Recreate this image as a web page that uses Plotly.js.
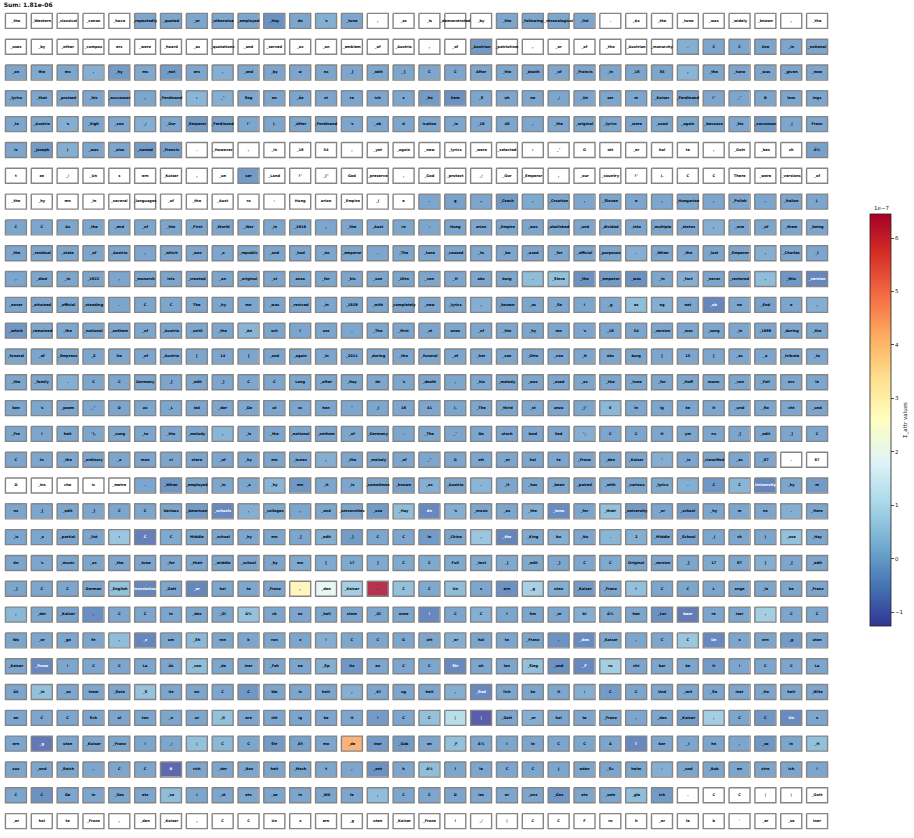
<!DOCTYPE html>
<html><head><meta charset="utf-8">
<script src="https://cdn.plot.ly/plotly-3.0.1.min.js"></script>
<style>html,body{margin:0;padding:0;background:#fff}#chart{width:914px;height:838px}</style>
</head><body><div id="chart"></div>
<script>
const n = null;
const chartTitle = "Sum: 1.81e-06";
const colorbarLabel = "Σ_attr values";
const colorbarExponent = "1e\u22127";
const colorbarTicks = [-1, 0, 1, 2, 3, 4, 5, 6];
const colorbarTickText = ["\u22121", "0", "1", "2", "3", "4", "5", "6"];
const valueMin = -1.26, valueMax = 6.45;

const tokens = [
["_the","_Western","_classical","_canon","_have","_repeatedly","_quoted","_or","_otherwise","_employed","_Hay","dn","'s","_tune",",","_as","_is","_demonstrated","_by","_the","_following","_chronological","_list",".","_As","_the","_tune","_was","_widely","_known",",","_the"],
["_uses","_by","_other","_compos","ers","_were","_heard","_as","_quotations","_and","_served","_as","_an","_emblem","_of","_Austria",",","_of","_Austrian","_patriotism",",","_or","_of","_the","_Austrian","_monarchy",".","Ċ","Ċ","Use","_in","_national"],
["_an","the","ms",",","_hy","ms","_not","ers",",","_and","_by","w","ns","_[","_edit","_]","Ċ","Ċ","After","_the","_death","_of","_Francis","_in","_18","35",",","_the","_tune","_was","_given","_new"],
["_lyrics","_that","_praised","_his","_successor",",","_Ferdinand",":","_\"","Seg","en","_Ãĸ","st","re","ich","s","_ho","hem","_S","oh","ne","_/","_Un","ser","m","_Kaiser","_Ferdinand","!\"","_\"","B","less","ings"],
["_to","_Austria","'s","_high","_son","_/","_Our","_Emperor","_Ferdinand","!\"",").","_After","_Ferdinand","'s","_ab","d","ication","_in","_18","48",",","_the","_original","_lyrics","_were","_used","_again","_because","_his","_successor","_(","Franc"],
["is","_Joseph",")","_was","_also","_named","_Francis",".","_However",",","_in","_18","54",",","_yet","_again","_new","_lyrics","_were","_selected",":","_\"","G","ott","_er","hal","te",",","_Gott","_bes","ch","Ã¼"],
["t","ze","_/","_Un","s","ern","_Kaiser",",","_un","ser","_Land","!\"","_(\"","God","_preserve",",","_God","_protect","_/","_Our","_Emperor",",","_our","_country","!\"",").","Ċ","Ċ","There","_were","_versions","_of"],
["_the","_hy","mn","_in","_several","_languages","_of","_the","_Aust","ro","-","Hung","arian","_Empire","_(","e",".","g",".,","_Czech",",","_Croatian",",","_Sloven","e",",","_Hungarian",",","_Polish",",","_Italian",")."],
["Ċ","Ċ","As","_the","_end","_of","_the","_First","_World","_War","_in","_1918",",","_the","_Aust","ro","-","Hung","arian","_Empire","_was","_abolished","_and","_divided","_into","_multiple","_states",",","_one","_of","_them","_being"],
["_the","_residual","_state","_of","_Austria",",","_which","_was","_a","_republic","_and","_had","_no","_emperor",".","_The","_tune","_ceased","_to","_be","_used","_for","_official","_purposes",".","_When","_the","_last","_Emperor",",","_Charles","_I"],
[",","_died","_in","_1922",",","_monarch","ists","_created","_an","_original","_st","anza","_for","_his","_son","_Otto","_von","_H","abs","burg",".","_Since","_the","_emperor","_was","_in","_fact","_never","_restored",",","_this","_version"],
["_never","_attained","_official","_standing",".","Ċ","Ċ","The","_hy","mn","_was","_revived","_in","_1929","_with","_completely","_new","_lyrics",",","_known","_as","_Se","i","_g","es","eg","net","_oh","ne","_End","e",","],
["_which","_remained","_the","_national","_anthem","_of","_Austria","_until","_the","_An","sch","l","uss",".","_The","_first","_st","anza","_of","_the","_hy","mn","'s","_18","54","_version","_was","_sung","_in","_1989","_during","_the"],
["_funeral","_of","_Empress","_Z","ita","_of","_Austria","[","14","]","_and","_again","_in","_2011","_during","_the","_funeral","_of","_her","_son","_Otto","_von","_H","abs","burg","[","15","]","_as","_a","_tribute","_to"],
["_the","_family",".","Ċ","Ċ","Germany","_[","_edit","_]","Ċ","Ċ","Long","_after","_Hay","dn","'s","_death",",","_his","_melody","_was","_used","_as","_the","_tune","_for","_Hoff","mann","_von","_Fall","ers","le"],
["ben","'s","_poem","_\"","D","as","_L","ied","_der","_De","ut","sc","hen","\"","_(","18","41",").","_The","_third","_st","anza","_(\"","E","in","ig","ke","it","_und","_Re","cht","_und"],
["_Fre","i","heit","\"),","_sung","_to","_the","_melody",",","_is","_the","_national","_anthem","_of","_Germany",".","_The","_\"","De","utsch","land","lied","\",","Ċ","Ċ","H","ym","ns","_[","_edit","_]","Ċ"],
["Ċ","In","_the","_ordinary","_a","mon","ci","stere","_of","_hy","mn","_tunes",",","_the","_melody","_of","_\"","G","ott","_er","hal","te","_Franz","_den","_Kaiser","\"","_is","_classified","_as","_87",".","87"],
["D","_ins","che","ic","_metre",".","_When","_employed","_in","_a","_hy","mn","_it","_is","_sometimes","_known","_as","_Austria",".","_It","_has","_been","_paired","_with","_various","_lyrics",".","Ċ","Ċ","University","_hy","m"],
["ns","_[","_edit","_]","Ċ","Ċ","Various","_American","_schools",",","_colleges",",","_and","_universities","_use","_Hay","dn","'s","_music","_as","_the","_tune","_for","_their","_university","_or","_school","_hy","m","ns",".","_Here"],
["_is","_a","_partial","_list",":","Ċ","Ċ","Middle","_school","_hy","mn","_[","_edit","_]","Ċ","Ċ","In","_China",",","_the","_King","bo","_No",".","2","_Middle","_School","_(","ch",")","_use","_Hay"],
["dn","'s","_music","_as","_the","_tune","_for","_their","_middle","_school","_hy","mn","[","17","]","Ċ","Ċ","Full","_text","_[","_edit","_]","Ċ","Ċ","Original","_version","_[","17","97","]","_[","_edit"],
["_]","Ċ","Ċ","German","_English","translation","_Gott","_er","hal","te","_Franz",",","_den","_Kaiser",".","Ċ","Ċ","Un","s","ern","_g","uten","_Kaiser","_Franz","!","Ċ","Ċ","L","ange","_le","be","_Franz"],
[",","_der","_Kaiser",",","Ċ","Ċ","In","_des","_Gl","Ã¼","ck","es","_hell","stem","_Gl","anze","!","Ċ","Ċ","I","hm","_er","bl","Ã¼","hen","_Lor","beer","re","iser",",","Ċ","Ċ"],
["Wo","_er","_ge","ht",",","_z","um","_Eh","ren","k","ran","z","!","Ċ","Ċ","G","ott","_er","hal","te","_Franz",",","_den","_Kaiser",",","Ċ","Ċ","Un","s","ern","_g","uten"],
["_Kaiser","_Franz","!","Ċ","Ċ","La","ÃŁ","_von","_de","iner","_Fah","ne","_Sp","itz","en","Ċ","Ċ","Str","ah","len","_Sieg","_und","_F","ru","cht","bar","ke","it","!","Ċ","Ċ","La"],
["ÃŁ","_in","_so","inem","_Rate","_S","itz","en","Ċ","Ċ","We","is","heit",",","_Kl","ug","heit",",","_Red","lich","ke","it",";","Ċ","Ċ","Und","_mit","_Se","iner","_Ho","heit","_Blitz"],
["en","Ċ","Ċ","Sch","al","ten","_n","ur","_G","ere","cht","ig","ke","it","!","Ċ","Ċ","|","|","_Gott","_er","hal","te","_Franz",",","_den","_Kaiser",",","Ċ","Ċ","Un","s"],
["ern","_g","uten","_Kaiser","_Franz","!","_/","|","Ċ","Ċ","Str","Ã¶","me","_de","iner","_Gab","en","_F","Ã¼","l","le","Ċ","Ċ","Ã","ľ","ber","_i","hn",",","_se","in","_H"],
["aus","_und","_Reich",",","Ċ","Ċ","B","rich","_der","_Bos","heit","_Mach","t",",","_ent","h","Ã¼","l","le","Ċ","Ċ","J","eden","_Sc","helm","-","_und","_Bub","en","stre","ich","!"],
["Ċ","Ċ","De","in","_Ges","etz","_se","i","_st","ets","_se","in","_Wil","le",",","Ċ","Ċ","D","ies","er","_uns","_Ges","etz","_sein","_gle","ich",".","Ċ","Ċ","|","|","_Gott"],
["_er","hal","te","_Franz",",","_den","_Kaiser",",","Ċ","Ċ","Un","s","ern","_g","uten","_Kaiser","_Franz","!","_/","|","Ċ","Ċ","F","ro","h","_er","le","b","'","_er","_se","iner"]
];

// attribution values in units of 1e-7 (null = no value, drawn white)
const attributions = [
[n,n,n,n,n,-0.1,-0.1,-0.1,-0.1,-0.1,-0.45,-0.1,0.05,-0.1,n,n,n,n,n,-0.1,-0.1,-0.1,-0.1,n,n,n,n,n,n,n,n,n],
[n,n,n,n,n,n,n,n,n,n,n,n,n,n,n,n,n,n,-0.3,n,n,n,n,n,n,n,0.05,-0.1,-0.1,-0.1,-0.1,-0.1],
[-0.1,-0.05,-0.1,0.05,-0.3,-0.05,-0.3,-0.1,0.05,-0.1,-0.1,-0.1,-0.1,-0.1,-0.1,-0.1,-0.1,-0.1,-0.1,-0.1,-0.1,-0.1,-0.1,-0.1,-0.1,-0.1,0.15,-0.1,-0.1,-0.1,-0.1,-0.1],
[-0.1,-0.1,-0.1,-0.1,-0.2,-0.1,-0.1,0.15,0.05,-0.1,-0.1,-0.1,-0.1,-0.1,-0.1,-0.1,-0.3,-0.45,-0.1,-0.1,-0.1,-0.1,-0.1,-0.1,-0.1,-0.1,-0.2,-0.1,-0.1,-0.1,-0.1,-0.1],
[-0.1,-0.1,0.05,-0.1,-0.1,0.05,-0.1,-0.3,-0.2,-0.1,-0.1,-0.1,-0.1,-0.1,-0.1,-0.1,-0.1,-0.1,-0.1,-0.1,-0.1,-0.1,-0.1,-0.1,-0.1,-0.1,-0.1,-0.1,-0.1,-0.3,-0.1,-0.1],
[-0.1,-0.3,0.05,-0.1,-0.1,-0.3,-0.2,n,n,n,n,n,n,n,n,n,n,n,n,n,n,n,n,n,n,n,n,n,n,n,n,-0.2],
[n,n,n,n,n,n,n,n,n,-0.3,n,n,n,n,n,n,n,n,n,n,n,n,n,n,n,n,n,n,n,n,n,n],
[n,n,n,n,n,n,n,n,n,n,n,n,n,n,n,n,-0.1,-0.2,-0.1,-0.3,-0.05,-0.1,-0.1,-0.1,-0.1,-0.1,-0.1,-0.1,-0.1,-0.1,-0.1,-0.1],
[-0.1,-0.1,-0.1,-0.1,-0.1,-0.1,-0.1,-0.1,-0.1,-0.1,-0.1,-0.1,-0.1,-0.1,-0.1,-0.1,-0.1,-0.1,-0.1,-0.1,-0.1,-0.1,-0.1,-0.1,-0.1,-0.1,-0.1,0.05,-0.1,-0.1,-0.1,-0.1],
[-0.1,-0.1,-0.1,-0.1,-0.1,-0.1,-0.1,-0.1,-0.1,-0.1,-0.1,-0.1,-0.1,-0.1,-0.1,-0.1,-0.1,-0.1,-0.1,-0.1,-0.1,-0.1,-0.1,-0.1,0.05,-0.1,-0.1,-0.1,-0.1,0.05,-0.1,-0.1],
[-0.1,-0.1,-0.1,-0.1,-0.1,-0.1,-0.1,-0.1,-0.1,-0.1,-0.1,-0.1,-0.1,-0.1,-0.1,-0.1,-0.1,-0.1,-0.1,-0.1,0.3,0.35,-0.45,-0.3,-0.45,-0.1,0.05,-0.1,-0.2,0.3,-0.35,-0.65],
[-0.1,-0.1,-0.1,-0.1,-0.1,-0.1,-0.1,-0.1,-0.1,-0.1,-0.1,-0.1,-0.1,-0.1,-0.1,-0.1,-0.1,-0.1,0.05,-0.2,-0.1,-0.1,-0.1,-0.1,0.3,0.05,-0.1,-0.65,-0.1,-0.2,-0.1,0.05],
[-0.35,-0.1,-0.1,-0.1,-0.1,-0.1,-0.1,-0.1,-0.1,0.15,-0.1,-0.1,-0.1,-0.1,-0.1,-0.1,-0.1,-0.1,-0.1,-0.1,-0.1,-0.1,-0.1,-0.1,-0.1,-0.1,-0.1,-0.1,-0.1,-0.1,-0.1,-0.1],
[-0.1,-0.1,-0.1,-0.1,-0.1,-0.1,-0.1,-0.1,-0.1,-0.1,-0.1,-0.1,-0.1,-0.1,-0.1,-0.1,-0.1,-0.1,-0.1,-0.1,-0.1,-0.1,-0.1,-0.1,-0.1,-0.1,-0.1,-0.1,-0.1,-0.1,-0.1,-0.1],
[-0.1,-0.1,0.05,-0.1,-0.1,-0.1,-0.1,-0.1,-0.1,-0.1,-0.1,-0.1,-0.1,-0.1,-0.1,-0.1,-0.1,-0.1,-0.1,-0.1,-0.1,-0.1,-0.1,-0.1,-0.1,-0.1,-0.1,-0.1,-0.1,-0.1,-0.1,-0.1],
[-0.1,-0.1,-0.1,-0.1,-0.1,-0.1,-0.1,-0.1,-0.1,-0.1,-0.1,-0.1,-0.1,-0.1,-0.1,-0.1,-0.1,-0.1,-0.1,-0.1,-0.1,-0.1,-0.1,0.2,-0.1,-0.1,-0.1,-0.1,-0.1,-0.1,-0.1,-0.1],
[-0.1,-0.1,-0.1,-0.1,-0.1,-0.1,-0.1,-0.1,0.15,-0.1,-0.1,-0.1,-0.1,-0.1,-0.1,-0.1,-0.1,-0.1,-0.1,-0.1,-0.1,-0.1,0.05,-0.1,-0.1,-0.1,-0.1,-0.1,-0.1,-0.1,-0.1,-0.1],
[-0.1,-0.1,-0.1,-0.1,-0.1,-0.1,-0.1,-0.1,-0.1,-0.1,-0.1,-0.1,0.05,-0.1,-0.1,-0.1,-0.1,-0.1,-0.1,-0.1,-0.1,-0.1,-0.1,-0.1,-0.1,0.05,-0.1,-0.1,-0.1,-0.1,n,n],
[n,n,n,n,n,-0.1,-0.35,-0.1,-0.1,-0.1,0.15,-0.35,-0.1,-0.1,-0.1,-0.2,0.05,-0.1,0.15,-0.1,-0.1,-0.1,-0.2,-0.1,-0.1,-0.05,0.05,-0.35,0.15,-0.65,-0.1,-0.3],
[-0.1,-0.1,-0.1,-0.1,-0.1,-0.1,-0.1,-0.3,-0.6,0.05,-0.05,-0.1,-0.1,-0.1,-0.3,0.3,-0.6,0.05,-0.1,-0.1,0.05,-0.55,-0.1,0.35,-0.3,-0.1,-0.3,-0.1,-0.1,-0.1,0.05,-0.1],
[-0.1,-0.1,-0.1,-0.1,0.5,-0.75,-0.05,-0.1,-0.1,-0.1,-0.1,-0.1,0.05,-0.3,-0.1,-0.1,-0.3,-0.1,0.5,-0.65,-0.05,0.05,-0.1,0.15,0.05,-0.1,-0.2,-0.1,-0.1,-0.1,0.35,-0.1],
[-0.1,-0.1,-0.1,-0.1,-0.1,-0.1,-0.1,-0.1,-0.1,-0.1,-0.1,-0.05,-0.05,-0.05,-0.05,-0.05,-0.05,-0.05,-0.05,-0.05,-0.05,-0.1,-0.1,-0.05,-0.1,-0.1,-0.1,-0.05,-0.1,0.05,-0.1,-0.1],
[-0.1,-0.1,-0.1,-0.1,0.35,-0.65,-0.1,-0.65,-0.1,-0.1,-0.1,2.85,1.9,0.65,6.45,0.35,-0.05,0.3,-0.1,-0.45,0.7,0.05,-0.3,-0.1,0.35,-0.1,-0.1,-0.1,-0.1,-0.1,-0.1,-0.1],
[0.2,-0.1,-0.2,-0.5,-0.1,-0.1,-0.1,-0.1,-0.1,0.4,-0.1,-0.1,-0.1,-0.1,-0.1,-0.1,-0.6,-0.1,0.05,-0.1,-0.1,-0.1,0.05,-0.1,-0.1,-0.45,-0.8,-0.1,-0.1,0.65,-0.1,-0.1],
[-0.1,-0.1,-0.1,-0.1,0.3,-0.65,-0.1,0.2,-0.1,-0.1,-0.1,-0.1,0.05,-0.1,-0.1,-0.1,-0.1,0.05,-0.1,-0.1,-0.1,-0.45,-0.55,-0.1,-0.1,-0.1,0.5,-0.6,-0.1,-0.1,-0.3,-0.1],
[-0.1,-0.6,-0.1,-0.1,-0.1,-0.1,-0.1,0.3,-0.1,-0.1,-0.1,-0.1,0.05,-0.35,-0.1,-0.1,-0.1,-0.6,-0.1,-0.1,0.35,-0.45,-0.6,0.65,-0.1,-0.1,-0.1,-0.3,-0.1,-0.1,-0.1,-0.1],
[-0.1,0.35,-0.1,-0.1,-0.1,0.4,-0.1,-0.1,-0.1,-0.35,-0.1,-0.1,-0.1,0.05,-0.1,-0.1,-0.1,0.05,-0.6,-0.1,-0.1,-0.1,0.05,-0.3,-0.1,-0.1,-0.1,-0.1,-0.1,-0.1,-0.1,-0.1],
[-0.1,-0.1,-0.1,-0.1,-0.1,-0.1,-0.1,-0.1,0.35,-0.1,-0.1,-0.1,-0.1,-0.1,-0.3,-0.1,0.35,1.0,-1.26,-0.1,0.05,-0.1,-0.1,-0.1,-0.1,-0.1,-0.3,0.65,-0.1,-0.35,-0.55,-0.1],
[-0.1,-0.85,-0.1,-0.1,-0.1,-0.1,-0.1,0.35,0.2,-0.1,-0.3,-0.2,-0.1,4.3,-0.3,-0.3,-0.1,0.35,-0.1,-0.1,-0.1,-0.1,-0.1,-0.1,-0.6,-0.1,-0.1,-0.1,-0.1,-0.35,-0.1,0.35],
[-0.1,-0.1,-0.1,-0.1,-0.1,-0.1,-1.1,-0.1,-0.1,-0.1,-0.1,-0.1,-0.1,-0.1,-0.45,-0.1,0.3,-0.1,-0.1,-0.1,-0.1,-0.1,-0.1,-0.1,-0.1,0.05,-0.1,-0.1,-0.1,-0.1,-0.1,-0.1],
[-0.1,-0.45,-0.1,-0.1,-0.1,-0.1,0.3,-0.1,-0.1,-0.1,-0.1,-0.1,-0.1,-0.1,0.3,-0.1,-0.1,-0.1,-0.1,-0.1,-0.1,-0.35,-0.1,-0.1,0.3,-0.3,n,n,n,n,n,n],
[n,n,n,n,n,n,n,n,n,n,n,n,n,n,n,n,n,n,n,n,n,n,n,n,n,n,n,n,n,n,n,n]
];

const colorscale = [
  [0.0, "#313695"], [0.1, "#4575b4"], [0.2, "#74add1"], [0.3, "#abd9e9"],
  [0.4, "#e0f3f8"], [0.5, "#ffffbf"], [0.6, "#fee090"], [0.7, "#fdae61"],
  [0.8, "#f46d43"], [0.9, "#d73027"], [1.0, "#a50026"]
];

const nRows = tokens.length, nCols = tokens[0].length;
const xIdx = Array.from({length: nCols}, (_, i) => i);
const yIdx = Array.from({length: nRows}, (_, i) => i);
const halfW = 0.406, halfH = 0.29;

const bx = [], by = [], tx = [], ty = [], tt = [], tc = [];
for (let r = 0; r < nRows; r++) {
  for (let c = 0; c < nCols; c++) {
    bx.push(c - halfW, c + halfW, c + halfW, c - halfW, c - halfW, null);
    by.push(r - halfH, r - halfH, r + halfH, r + halfH, r - halfH, null);
    tx.push(c); ty.push(r); tt.push(tokens[r][c]);
    const v = attributions[r][c];
    tc.push(v !== null && v < -0.52 ? "#ffffff" : "#000000");
  }
}

const heat = {
  type: "heatmap", z: attributions, x: xIdx, y: yIdx,
  colorscale: colorscale, zmin: valueMin, zmax: valueMax,
  xgap: 4.85, ygap: 10.8, opacity: 0.8, hoverongaps: false, hoverinfo: "skip",
  colorbar: {
    x: 1.0484, xanchor: "left", xpad: 0, ypad: 0,
    y: 0.5012, yanchor: "middle", len: 0.4988, lenmode: "fraction",
    thickness: 21, thicknessmode: "pixels",
    outlinewidth: 0.8, outlinecolor: "#222",
    tickvals: colorbarTicks, ticktext: colorbarTickText,
    ticks: "outside", ticklen: 3, tickwidth: 0.8, tickcolor: "#222",
    tickfont: {size: 5.5, family: "DejaVu Sans", color: "#222"},
    title: {text: colorbarLabel, side: "right", font: {size: 5.5, family: "DejaVu Sans", color: "#222"}}
  }
};

const borders = {
  type: "scatter", mode: "lines", x: bx, y: by,
  line: {color: "#858585", width: 1.4}, hoverinfo: "skip", showlegend: false
};

const labels = {
  type: "scatter", mode: "text", x: tx, y: ty, text: tt,
  textposition: "middle center",
  textfont: {size: 3.6, family: "DejaVu Sans", weight: "bold", color: tc},
  hoverinfo: "skip", showlegend: false, cliponaxis: false
};

const layout = {
  width: 914, height: 838,
  margin: {l: 3, r: 84, t: 8, b: 4},
  paper_bgcolor: "#ffffff", plot_bgcolor: "#ffffff",
  showlegend: false,
  title: {text: chartTitle, x: 0.004, xanchor: "left", xref: "container",
          y: 0.997, yanchor: "top", yref: "container",
          font: {size: 6, family: "DejaVu Sans", weight: "bold", color: "#111"}},
  xaxis: {range: [-0.5, nCols - 0.5], visible: false, fixedrange: true},
  yaxis: {range: [nRows - 0.5, -0.5], visible: false, fixedrange: true},
  annotations: [{
    text: colorbarExponent, xref: "paper", yref: "paper",
    x: 1.0617, y: 0.7518, xanchor: "center", yanchor: "bottom", showarrow: false,
    font: {size: 5.5, family: "DejaVu Sans", color: "#222"}
  }]
};

Plotly.newPlot("chart", [heat, borders, labels], layout, {displayModeBar: false, staticPlot: true});
</script>
</body></html>
